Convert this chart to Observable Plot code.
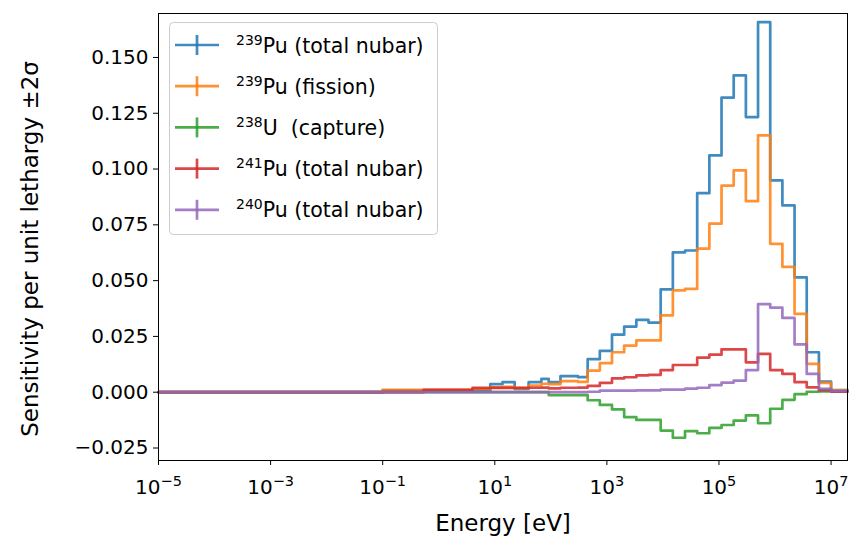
<!DOCTYPE html>
<html><head><meta charset="utf-8">
<script src="https://cdn.jsdelivr.net/npm/d3@7"></script>
<script src="https://cdn.jsdelivr.net/npm/@observablehq/plot@0.6"></script>
<style>body{margin:0;background:#fff;}</style>
</head><body><div id="chart"></div>
<script>
// ECCO-33 group boundaries (eV), ascending
const edges = [1e-5, 0.1, 0.54, 4.0, 8.3153, 13.710, 22.603, 40.169, 67.904, 91.661, 148.63, 304.32, 454.00, 748.52, 1234.1, 2034.7, 3354.6, 5530.8, 9118.8, 15034, 24788, 40868, 67379, 111090, 183160, 301970, 497870, 820850, 1353400, 2231300, 3678800, 6065300, 1e7, 1.964e7];

// sensitivity per unit lethargy, one value per group (low -> high energy)
const pu239Nubar = [0, 0.0008, 0.0006, 0.0008, 0.0036, 0.0045, 0.0015, 0.0045, 0.0060, 0.0045, 0.0072, 0.0068, 0.0148, 0.0185, 0.0258, 0.0294, 0.0324, 0.0312, 0.0461, 0.0627, 0.0635, 0.0892, 0.1061, 0.1320, 0.1420, 0.1233, 0.1658, 0.0949, 0.0837, 0.0515, 0.0179, 0.0048, 0.0010];
const pu239Fission = [0, 0.0011, 0.0011, 0.0015, 0.0022, 0.0024, 0.0018, 0.0030, 0.0038, 0.0036, 0.0050, 0.0046, 0.0097, 0.0130, 0.0179, 0.0209, 0.0232, 0.0232, 0.0344, 0.0456, 0.0463, 0.0643, 0.0755, 0.0926, 0.0994, 0.0856, 0.1151, 0.0665, 0.0562, 0.0351, 0.0127, 0.0042, 0.0008];
const u238Capture = [0, 0, 0, 0, 0, 0, 0, 0, 0, -0.0013, -0.0013, -0.0013, -0.0036, -0.0057, -0.0077, -0.0112, -0.0124, -0.0124, -0.0172, -0.0204, -0.0174, -0.0184, -0.0160, -0.0147, -0.0127, -0.0104, -0.0139, -0.0074, -0.0034, -0.0009, 0.0002, 0.0004, 0.0002];
const pu241Nubar = [0, 0, 0.0011, 0.0019, 0.0019, 0.0019, 0.0020, 0.0020, 0.0021, 0.0017, 0.0020, 0.0021, 0.0028, 0.0042, 0.0062, 0.0067, 0.0075, 0.0078, 0.0099, 0.0122, 0.0122, 0.0155, 0.0168, 0.0192, 0.0192, 0.0134, 0.0172, 0.0099, 0.0082, 0.0045, 0.0022, 0.0009, 0.0003];
const pu240Nubar = [0, 0, 0, 0, 0, 0, 0, 0, 0, 0, 0, 0, 0.0002, 0.0007, 0.0007, 0.0007, 0.0008, 0.0008, 0.0012, 0.0012, 0.0016, 0.0020, 0.0032, 0.0043, 0.0052, 0.0099, 0.0395, 0.0379, 0.0333, 0.0214, 0.0082, 0.0015, 0.0005];

const seriesKeys = ["s0", "s1", "s2", "s3", "s4"];
const seriesValues = [pu239Nubar, pu239Fission, u238Capture, pu241Nubar, pu240Nubar];
const legendMass = ["239", "239", "238", "241", "240"];
const legendName = ["Pu (total nubar)", "Pu (fission)", "U  (capture)", "Pu (total nubar)", "Pu (total nubar)"];
const colors = ["#1f77b4", "#ff7f0e", "#2ca02c", "#d62728", "#9467bd"];

const xTicks = [1e-5, 1e-3, 1e-1, 1e1, 1e3, 1e5, 1e7];
const yTicks = [-0.025, 0, 0.025, 0.05, 0.075, 0.1, 0.125, 0.15];
const xLabel = "Energy [eV]";
const yLabel = "Sensitivity per unit lethargy ±2σ";

const rows = [];
seriesValues.forEach((vals, k) => {
  vals.forEach((v, i) => rows.push({key: seriesKeys[k], e: edges[i], v}));
  rows.push({key: seriesKeys[k], e: edges[edges.length - 1], v: vals[vals.length - 1]});
});

const expOf = d => Math.round(Math.log10(d));
const tickFmt = d => "10^" + expOf(d);

const FONT = "'DejaVu Sans', sans-serif";

const chart = Plot.plot({
  width: 852,
  height: 545,
  marginLeft: 158,
  marginRight: 5,
  marginTop: 13,
  marginBottom: 85,
  style: {fontFamily: FONT, fontSize: "20px", color: "#000", background: "#fff"},
  x: {type: "log", domain: [1e-5, 1.964e7]},
  y: {domain: [-0.0306, 0.1697]},
  color: {domain: seriesKeys, range: colors},
  marks: [
    Plot.line(rows, {x: "e", y: "v", z: "key", stroke: "key", curve: "step-after", strokeWidth: 2.7, strokeOpacity: 0.85}),
    Plot.frame({stroke: "#000", strokeWidth: 1}),
    Plot.axisX({ticks: xTicks, tickFormat: tickFmt, tickSize: 5, tickPadding: 14, fontSize: 20, label: null}),
    Plot.axisY({ticks: yTicks, tickFormat: d3.format(".3f"), tickSize: 5, tickPadding: 5, fontSize: 20, label: null}),
    Plot.text([xLabel], {frameAnchor: "bottom", dy: 70, fontSize: 23}),
    Plot.text([yLabel], {frameAnchor: "left", textAnchor: "middle", dx: -128, dy: 12, rotate: -90, fontSize: 23})
  ]
});

document.getElementById("chart").appendChild(chart);

const svg = d3.select(chart);

// render x tick labels as 10 with a raised exponent
svg.selectAll('g[aria-label="x-axis tick label"] text').each(function() {
  const s = this.textContent;
  const m = s.match(/^10\^(-?\d+)$/);
  if (!m) return;
  const el = d3.select(this);
  el.text(null);
  el.append("tspan").text("10");
  el.append("tspan").attr("font-size", 14.5).attr("dy", -8).text(m[1].replace("-", "\u2212"));
});

// legend
const lg = svg.append("g").attr("font-family", FONT).attr("text-anchor", "start");
lg.append("rect").attr("x", 169.5).attr("y", 22.5).attr("width", 268).attr("height", 212).attr("rx", 4)
  .attr("fill", "#fff").attr("fill-opacity", 0.8).attr("stroke", "#cccccc");
seriesKeys.forEach((k, i) => {
  const cy = 45 + i * 41.2;
  lg.append("line").attr("x1", 175).attr("x2", 219).attr("y1", cy).attr("y2", cy)
    .attr("stroke", colors[i]).attr("stroke-width", 2.7).attr("stroke-opacity", 0.85);
  lg.append("line").attr("x1", 197).attr("x2", 197).attr("y1", cy - 10).attr("y2", cy + 10)
    .attr("stroke", colors[i]).attr("stroke-width", 2.7).attr("stroke-opacity", 0.85);
  const t = lg.append("text").attr("x", 236).attr("y", cy + 7.5).attr("font-size", 20.5)
    .attr("text-anchor", "start").attr("fill", "#000").attr("xml:space", "preserve").style("white-space", "pre");
  t.append("tspan").attr("font-size", 14).attr("dy", -8).text(legendMass[i]);
  t.append("tspan").attr("dy", 8).text(legendName[i]);
});
</script>
</body></html>
